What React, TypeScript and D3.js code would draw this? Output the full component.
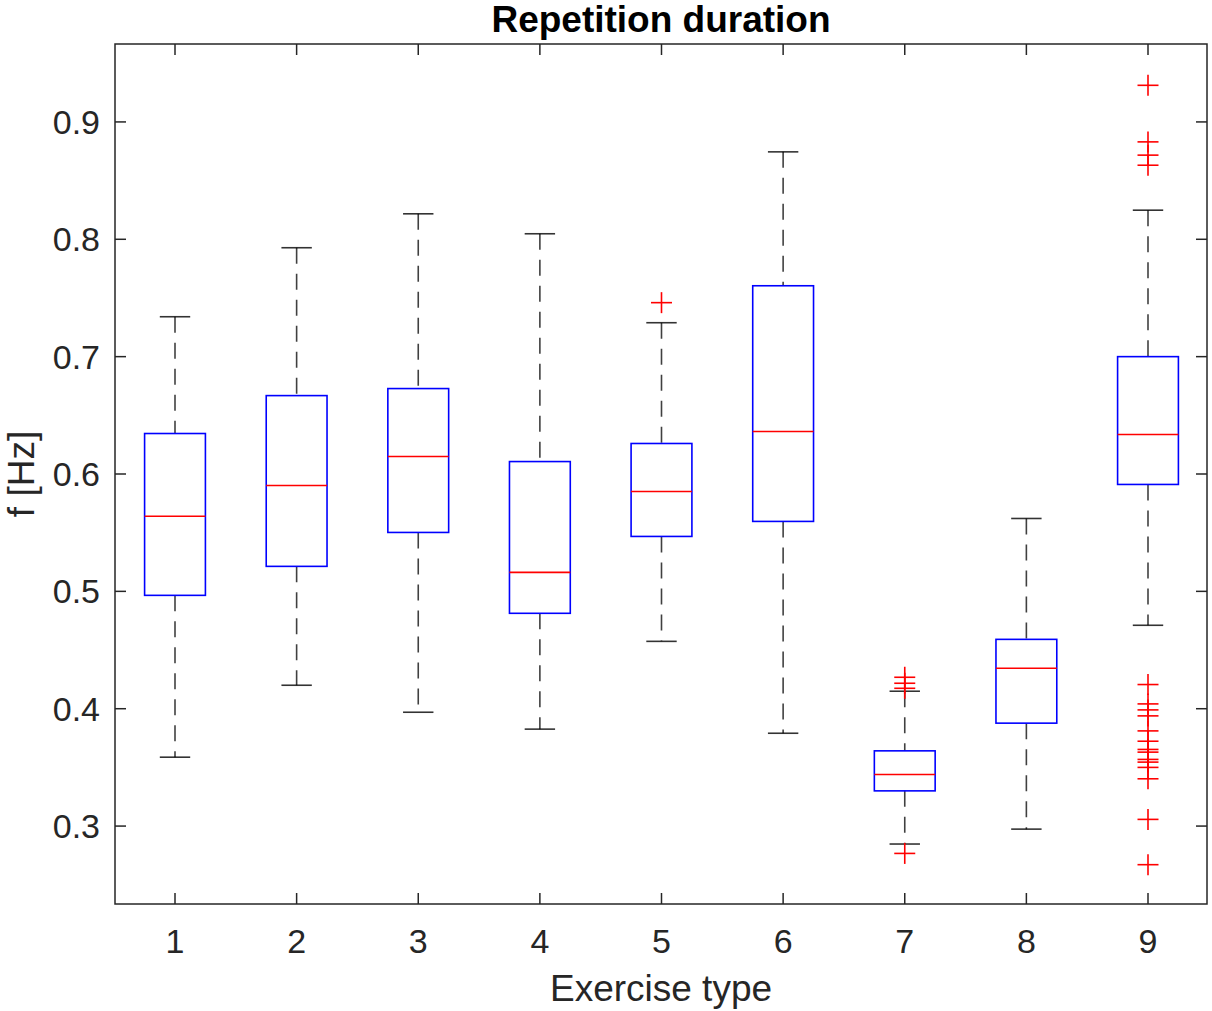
import React from "react";
import * as d3 from "d3";

const categories = [1, 2, 3, 4, 5, 6, 7, 8, 9];
const lowerWhisker = [0.3587, 0.42, 0.397, 0.3826, 0.4574, 0.3791, 0.2847, 0.2974, 0.4711];
const q1 = [0.4966, 0.5213, 0.5502, 0.4813, 0.5468, 0.5596, 0.33, 0.3877, 0.5911];
const median = [0.564, 0.5902, 0.6149, 0.5162, 0.5851, 0.6362, 0.344, 0.4345, 0.6336];
const q3 = [0.6345, 0.6668, 0.6728, 0.6106, 0.626, 0.7604, 0.3641, 0.4591, 0.7];
const upperWhisker = [0.734, 0.7928, 0.8217, 0.8047, 0.7289, 0.8745, 0.4149, 0.5621, 0.8248];
const outliers: number[][] = [
  [],
  [],
  [],
  [],
  [0.746],
  [],
  [0.4268, 0.4217, 0.4174, 0.2767],
  [],
  [0.9312, 0.883, 0.8717, 0.8631, 0.4206, 0.4041, 0.399, 0.3939, 0.3811, 0.3723, 0.3653, 0.363, 0.3568, 0.3545, 0.35, 0.3403, 0.3057, 0.2671],
];
const yTicks = [0.3, 0.4, 0.5, 0.6, 0.7, 0.8, 0.9];

const W = 1212;
const H = 1011;
const left = 115;
const right = 1207;
const top = 44;
const bottom = 904;

export default function App() {
  const x = d3.scaleLinear().domain([1, 9]).range([175, 1148]);
  const y = d3.scaleLinear().domain([0.2336, 0.9664]).range([bottom, top]);
  const step = x(2) - x(1);
  const boxHalf = step * 0.25;
  const capHalf = step * 0.125;
  const axisColor = "#262626";
  const font = "'Liberation Sans', Arial, Helvetica, sans-serif";
  const tickLen = 11;

  return (
    <svg width={W} height={H} style={{ position: "absolute", left: 0, top: 0, background: "#fff" }}>
      <rect x={0} y={0} width={W} height={H} fill="#fff" />
      {categories.map((c, i) => {
        const cx = x(c);
        return (
          <g key={c}>
            <line x1={cx} x2={cx} y1={y(upperWhisker[i])} y2={y(q3[i])} stroke="#000" strokeOpacity={0.75} strokeWidth={1.6} strokeDasharray="16,10" />
            <line x1={cx} x2={cx} y1={y(q1[i])} y2={y(lowerWhisker[i])} stroke="#000" strokeOpacity={0.75} strokeWidth={1.6} strokeDasharray="16,10" />
            <line x1={cx - capHalf} x2={cx + capHalf} y1={y(upperWhisker[i])} y2={y(upperWhisker[i])} stroke="#000" strokeOpacity={0.8} strokeWidth={1.6} />
            <line x1={cx - capHalf} x2={cx + capHalf} y1={y(lowerWhisker[i])} y2={y(lowerWhisker[i])} stroke="#000" strokeOpacity={0.8} strokeWidth={1.6} />
            <rect x={cx - boxHalf} y={y(q3[i])} width={boxHalf * 2} height={y(q1[i]) - y(q3[i])} fill="none" stroke="#0000ff" strokeWidth={1.6} />
            <line x1={cx - boxHalf} x2={cx + boxHalf} y1={y(median[i])} y2={y(median[i])} stroke="#ff0000" strokeWidth={1.6} />
            {outliers[i].map((v, j) => (
              <g key={j} stroke="#ff0000" strokeWidth={1.6}>
                <line x1={cx - 10.5} x2={cx + 10.5} y1={y(v)} y2={y(v)} />
                <line x1={cx} x2={cx} y1={y(v) - 10.5} y2={y(v) + 10.5} />
              </g>
            ))}
          </g>
        );
      })}
      <rect x={left} y={top} width={right - left} height={bottom - top} fill="none" stroke={axisColor} strokeWidth={1.5} />
      {categories.map((c) => (
        <g key={"xt" + c}>
          <line x1={x(c)} x2={x(c)} y1={bottom} y2={bottom - tickLen} stroke={axisColor} strokeWidth={1.5} />
          <line x1={x(c)} x2={x(c)} y1={top} y2={top + tickLen} stroke={axisColor} strokeWidth={1.5} />
          <text x={x(c)} y={953} textAnchor="middle" fontFamily={font} fontSize={34} fill={axisColor}>{c}</text>
        </g>
      ))}
      {yTicks.map((t) => (
        <g key={"yt" + t}>
          <line x1={left} x2={left + tickLen} y1={y(t)} y2={y(t)} stroke={axisColor} strokeWidth={1.5} />
          <line x1={right} x2={right - tickLen} y1={y(t)} y2={y(t)} stroke={axisColor} strokeWidth={1.5} />
          <text x={100} y={y(t) + 12} textAnchor="end" fontFamily={font} fontSize={34} fill={axisColor}>{t.toFixed(1)}</text>
        </g>
      ))}
      <text x={(left + right) / 2} y={32} textAnchor="middle" fontFamily={font} fontSize={37} fontWeight="bold" fill="#000">Repetition duration</text>
      <text x={(left + right) / 2} y={1001} textAnchor="middle" fontFamily={font} fontSize={37} fill={axisColor}>Exercise type</text>
      <text transform={`translate(34, ${(top + bottom) / 2}) rotate(-90)`} textAnchor="middle" fontFamily={font} fontSize={37} fill={axisColor}>f [Hz]</text>
    </svg>
  );
}
